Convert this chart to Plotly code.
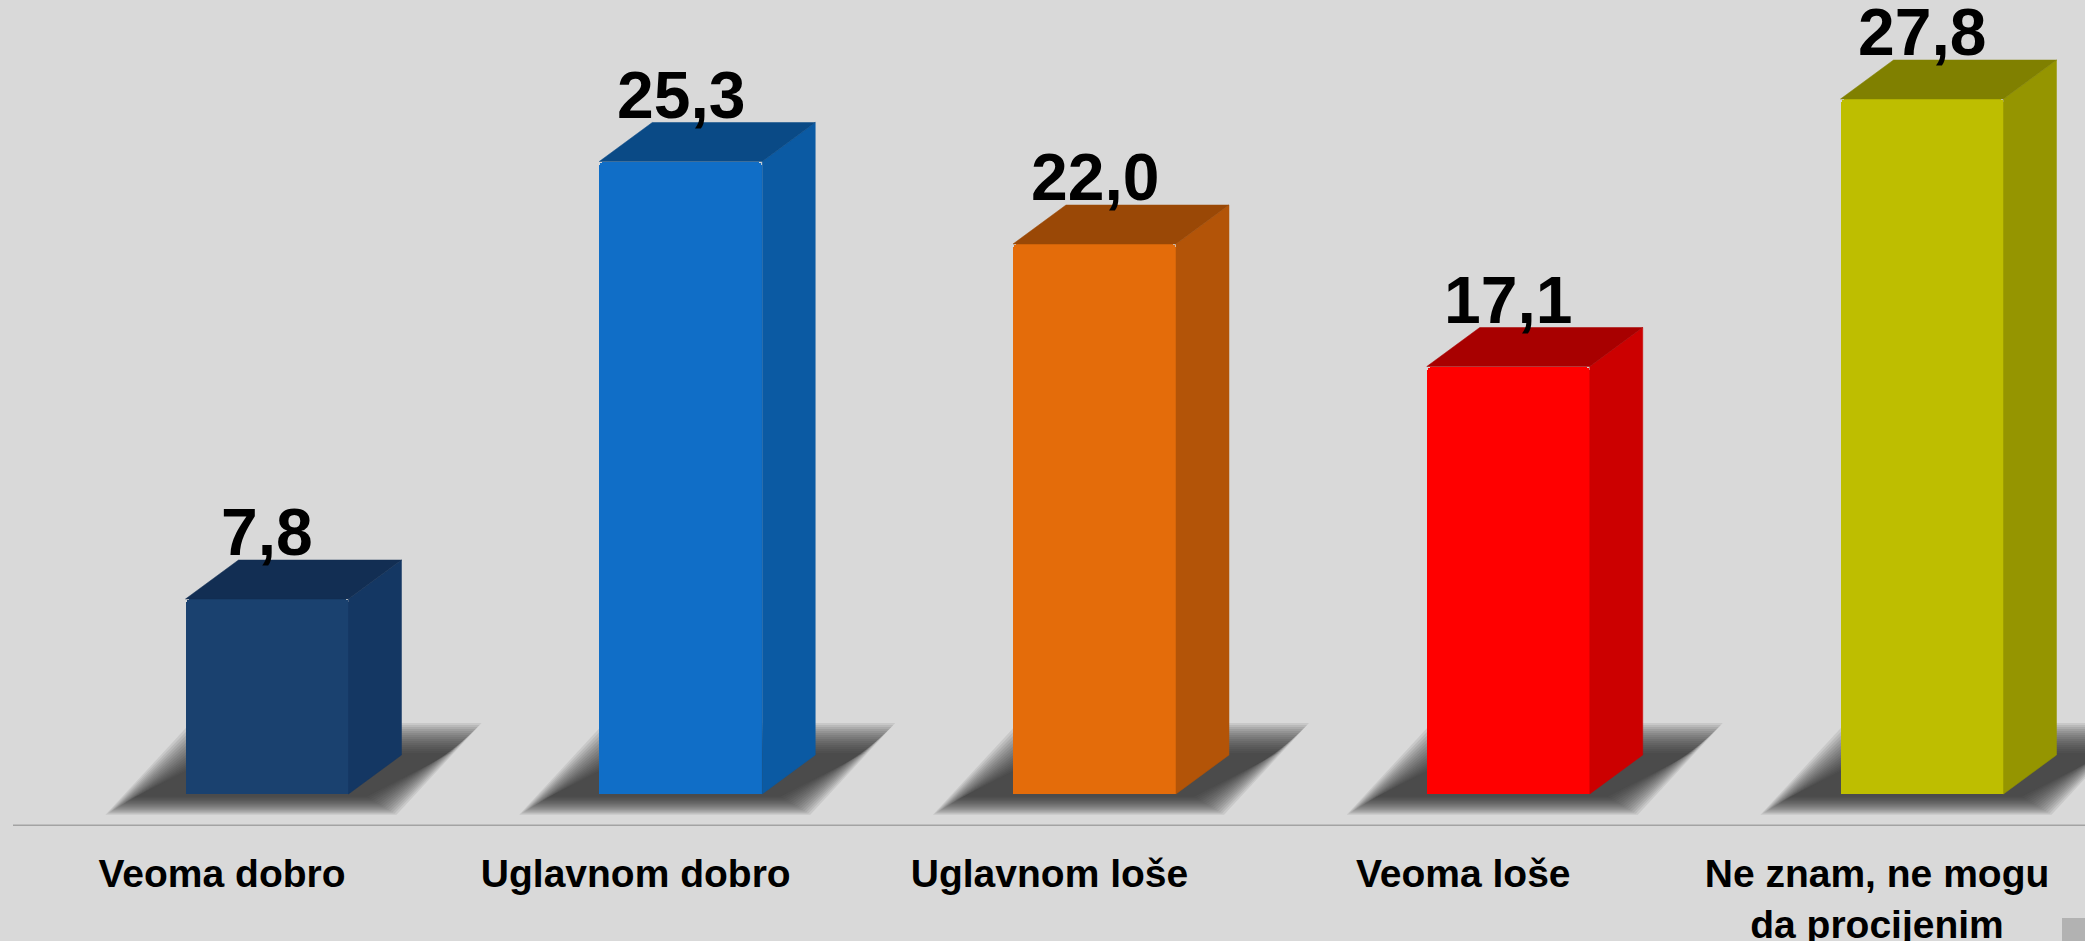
import plotly.graph_objects as go

# ---- data ----
categories = ["Veoma dobro", "Uglavnom dobro", "Uglavnom loše", "Veoma loše",
              "Ne znam, ne mogu<br>da procijenim"]
values = [7.8, 25.3, 22.0, 17.1, 27.8]
front_colors = ["#1a416f", "#106ec7", "#e46c0a", "#ff0000", "#bebe00"]
top_colors = ["#122e53", "#0a4a86", "#9a4806", "#a80000", "#808000"]
side_colors = ["#143763", "#0b5aa3", "#b35408", "#cc0000", "#959500"]

# ---- style / geometry (in axis units) ----
W, H = 2085, 941
PX_X = 413.75          # px per x unit
PX_Y = 25.0            # px per y unit
BAR_OFF = 45 / PX_X    # front face offset from category centre
BAR_W = 163 / PX_X
DX = 53 / PX_X         # 3D depth
DY = 39 / PX_Y
x_range = [-222 / PX_X, (W - 222) / PX_X]
y_range = [-32 / PX_Y, 794 / PX_Y]

fig = go.Figure()

shapes = []
# blurred floor shadows (layered translucent parallelograms)
for i, v in enumerate(values):
    xc = i + BAR_OFF
    xl, xr = xc - BAR_W / 2, xc + BAR_W / 2
    for k in range(16):
        e = (18 - 2 * k)  # px expansion
        ex, ey = e / PX_X, e / PX_Y
        pts = [(xl - 62 / PX_X - ex, -10 / PX_Y - ey * 0.6),
               (xr + 30 / PX_X + ex, -10 / PX_Y - ey * 0.6),
               (xr + 115 / PX_X + ex, 53 / PX_Y + ey),
               (xl + 23 / PX_X - ex, 53 / PX_Y + ey)]
        path = "M " + " L ".join(f"{px},{py}" for px, py in pts) + " Z"
        shapes.append(dict(type="path", path=path, xref="x", yref="y",
                           fillcolor="rgba(40,40,40,0.095)", line=dict(width=0),
                           layer="below"))

# axis line
shapes.append(dict(type="line", xref="paper", yref="y", x0=13 / W, x1=1,
                   y0=y_range[0], y1=y_range[0],
                   line=dict(color="#a3a3a3", width=3)))
# small grey square bottom-right
plot_h = H - 115
shapes.append(dict(type="rect", xref="paper", yref="paper",
                   x0=2062 / W, x1=1, y0=-(941 - plot_h) / plot_h, y1=-(918 - plot_h) / plot_h,
                   fillcolor="#b2b2b2", line=dict(width=0)))

# front faces
fig.add_trace(go.Bar(
    x=[i + BAR_OFF for i in range(len(values))], y=values, width=BAR_W,
    marker=dict(color=front_colors, line=dict(width=0), cornerradius=5),
    hoverinfo="skip", showlegend=False))

# top and side faces
for i, v in enumerate(values):
    xc = i + BAR_OFF
    xl, xr = xc - BAR_W / 2, xc + BAR_W / 2
    fig.add_trace(go.Scatter(
        x=[xr, xr, xr + DX, xr + DX, xr], y=[0, v, v + DY, DY, 0],
        fill="toself", fillcolor=side_colors[i], mode="lines",
        line=dict(width=0.5, color=side_colors[i]), hoverinfo="skip", showlegend=False))
    fig.add_trace(go.Scatter(
        x=[xl, xr, xr + DX, xl + DX, xl], y=[v, v, v + DY, v + DY, v],
        fill="toself", fillcolor=top_colors[i], mode="lines",
        line=dict(width=0.5, color=top_colors[i]), hoverinfo="skip", showlegend=False))

annotations = []
for i, v in enumerate(values):
    annotations.append(dict(
        x=i + BAR_OFF, y=v + DY, xref="x", yref="y",
        text=f"{v:.1f}".replace(".", ","), showarrow=False,
        yanchor="bottom", xanchor="center", yshift=-11,
        font=dict(family="Liberation Sans", size=66, color="black", weight="bold")))

fig.update_layout(
    width=W, height=H,
    margin=dict(l=0, r=0, t=0, b=115),
    paper_bgcolor="#d9d9d9", plot_bgcolor="#d9d9d9",
    bargap=0, shapes=shapes, annotations=annotations,
    xaxis=dict(range=x_range, tickvals=list(range(len(categories))),
               ticktext=categories, showgrid=False, zeroline=False, showline=False,
               ticks="", ticklabelstandoff=21, automargin=False,
               tickfont=dict(family="Liberation Sans", size=39, color="black", weight="bold")),
    yaxis=dict(range=y_range, visible=False, showgrid=False, zeroline=False,
               automargin=False),
)

fig.write_html("out.html", config={"displayModeBar": False},
               post_script="document.body.style.margin='0';"
                           "document.body.style.background='#d9d9d9';")
